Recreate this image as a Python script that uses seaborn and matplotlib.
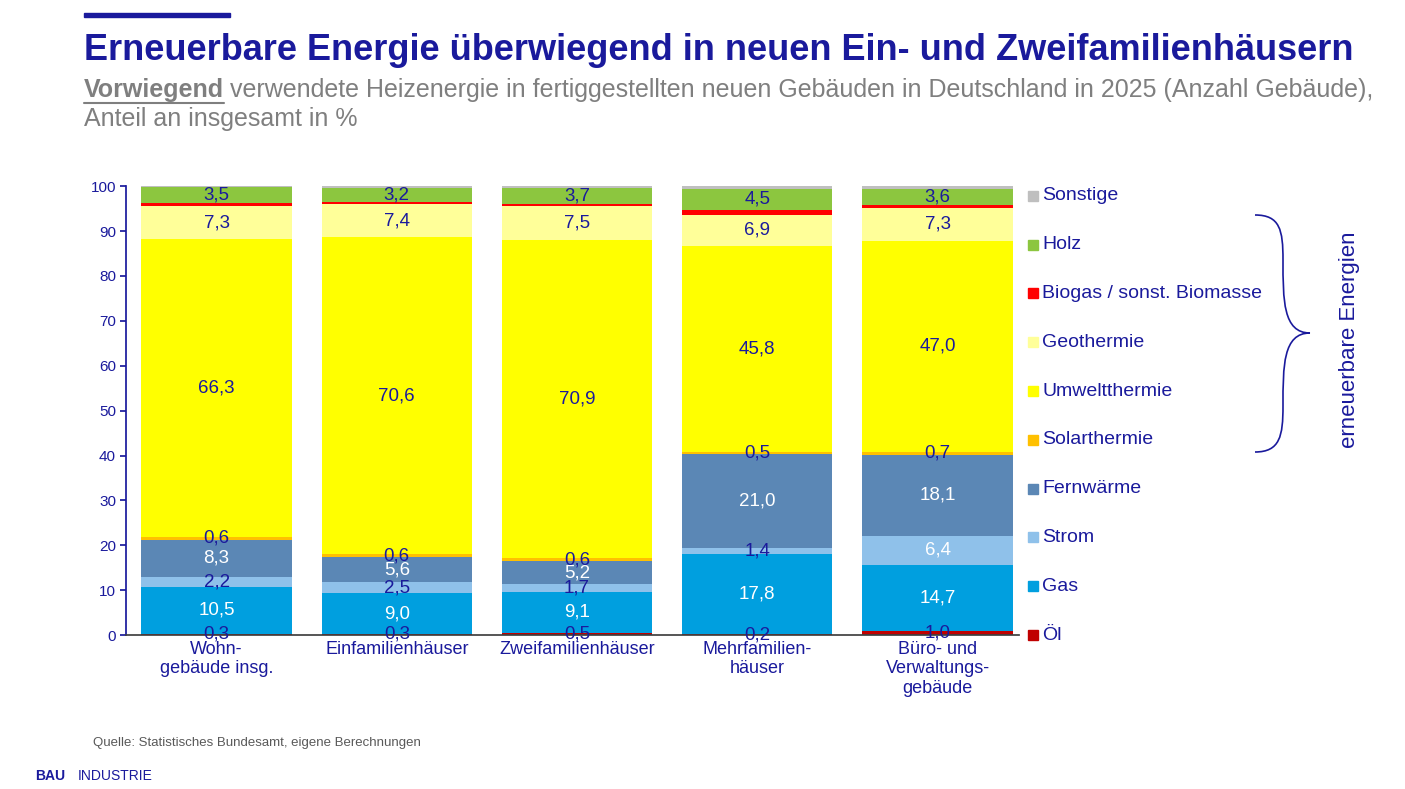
import numpy as np
import pandas as pd
import matplotlib
matplotlib.use("Agg")
import matplotlib.pyplot as plt
import seaborn as sns
from matplotlib.path import Path
from matplotlib.patches import PathPatch, Rectangle

categories = ["Wohn-\ngebäude insg.", "Einfamilienhäuser", "Zweifamilienhäuser",
              "Mehrfamilien-\nhäuser", "Büro- und\nVerwaltungs-\ngebäude"]
oel = [0.3, 0.3, 0.5, 0.2, 1.0]
gas = [10.5, 9.0, 9.1, 17.8, 14.7]
strom = [2.2, 2.5, 1.7, 1.4, 6.4]
fernwaerme = [8.3, 5.6, 5.2, 21.0, 18.1]
solarthermie = [0.6, 0.6, 0.6, 0.5, 0.7]
umweltthermie = [66.3, 70.6, 70.9, 45.8, 47.0]
geothermie = [7.3, 7.4, 7.5, 6.9, 7.3]
biogas = [0.8, 0.5, 0.5, 1.2, 0.6]
holz = [3.5, 3.2, 3.7, 4.5, 3.6]
sonstige = [0.2, 0.3, 0.3, 0.7, 0.6]

series = [
    ("Öl", oel, "#C00000"),
    ("Gas", gas, "#009FDF"),
    ("Strom", strom, "#8FC1EA"),
    ("Fernwärme", fernwaerme, "#5B87B5"),
    ("Solarthermie", solarthermie, "#FFC000"),
    ("Umweltthermie", umweltthermie, "#FFFF00"),
    ("Geothermie", geothermie, "#FFFF99"),
    ("Biogas / sonst. Biomasse", biogas, "#FF0000"),
    ("Holz", holz, "#8CC63F"),
    ("Sonstige", sonstige, "#BFBFBF"),
]
# which segments get labels, and which in white
labelled = {"Öl", "Gas", "Strom", "Fernwärme", "Solarthermie", "Umweltthermie", "Geothermie", "Holz"}
white = {("Gas", i) for i in range(5)} | {("Fernwärme", i) for i in range(5)} | {("Strom", 4)}

navy = "#1A1A9C"
sns.set_theme(style="white")
plt.rcParams["font.family"] = ["Liberation Sans", "DejaVu Sans"]

fig = plt.figure(figsize=(14.05, 7.89), dpi=100)
ax = fig.add_axes([0.09, 0.195, 0.635, 0.569])

bottom = np.zeros(len(categories))
for name, vals, col in series:
    df = pd.DataFrame({"cat": categories, "val": vals})
    sns.barplot(data=df, x="cat", y="val", color=col, bottom=bottom, width=0.833,
                saturation=1, ax=ax, linewidth=0, order=categories)
    if name in labelled:
        for i, v in enumerate(vals):
            c = "white" if (name, i) in white else navy
            ax.text(i, bottom[i] + v / 2, f"{v:.1f}".replace(".", ","), ha="center",
                    va="center", fontsize=13.5, color=c)
    bottom = bottom + np.array(vals)

ax.set_xlim(-0.5, 4.45)
ax.set_ylim(0, 100)
ax.set_yticks(range(0, 101, 10))
ax.set_xlabel("")
ax.set_ylabel("")
ax.tick_params(axis="y", colors=navy, labelsize=11, length=4, left=True, direction="out")
ax.tick_params(axis="x", colors=navy, labelsize=13, length=0, pad=4)
for s in ["top", "right"]:
    ax.spines[s].set_visible(False)
ax.spines["left"].set_color(navy)
ax.spines["bottom"].set_color("#404040")

# legend on the right
H = 789
for k, (name, vals, col) in enumerate(series):
    ypx = 635 - k * 48.8
    fig.patches.append(Rectangle((1028 / 1405, 1 - (ypx + 5) / H), 10 / 1405, 10 / H,
                                 transform=fig.transFigure, color=col, figure=fig))
    fig.text(1042 / 1405, 1 - ypx / H, name, fontsize=14, color=navy, va="center")

# brace
def fx(x): return x / 1405
def fy(y): return 1 - y / H
verts = [(fx(1255), fy(215)), (fx(1280), fy(215)), (fx(1283), fy(230)), (fx(1283), fy(260)),
         (fx(1283), fy(300)), (fx(1283), fy(333)), (fx(1310), fy(333)),
         (fx(1283), fy(333)), (fx(1283), fy(366)), (fx(1283), fy(406)),
         (fx(1283), fy(436)), (fx(1280), fy(452)), (fx(1255), fy(452))]
codes = [Path.MOVETO] + [Path.CURVE4] * 12
fig.patches.append(PathPatch(Path(verts, codes), fill=False, edgecolor=navy, lw=1.2,
                             transform=fig.transFigure, figure=fig))
fig.text(fx(1350), fy(340), "erneuerbare Energien", rotation=90, fontsize=16,
         color=navy, ha="center", va="center")

# title block
fig.patches.append(Rectangle((fx(84), fy(17)), fx(230) - fx(84), 4 / H,
                             transform=fig.transFigure, color=navy, figure=fig))
fig.text(fx(84), fy(50), "Erneuerbare Energie überwiegend in neuen Ein- und Zweifamilienhäusern",
         fontsize=26, fontweight="bold", color=navy, va="center")
t1 = fig.text(fx(84), fy(90), "Vorwiegend", fontsize=18, fontweight="bold", color="#7F7F7F",
              va="center")
fig.canvas.draw()
bb = t1.get_window_extent()
fig.add_artist(plt.Line2D([bb.x0 / 1405, bb.x1 / 1405], [fy(103), fy(103)], color="#7F7F7F",
                          lw=1.5, transform=fig.transFigure))
fig.text(bb.x1 / 1405 + 0.004, fy(90),
         "verwendete Heizenergie in fertiggestellten neuen Gebäuden in Deutschland in 2025 (Anzahl Gebäude),",
         fontsize=18, color="#7F7F7F", va="center")
fig.text(fx(84), fy(119), "Anteil an insgesamt in %", fontsize=18, color="#7F7F7F", va="center")

fig.text(fx(93), fy(743), "Quelle: Statistisches Bundesamt, eigene Berechnungen", fontsize=9.5,
         color="#595959", va="center")
fig.text(fx(35), fy(776), "BAU", fontsize=10, fontweight="bold", color=navy, va="center")
fig.text(fx(78), fy(776), "INDUSTRIE", fontsize=10, color=navy, va="center")

fig.savefig("out.png", dpi=100)
